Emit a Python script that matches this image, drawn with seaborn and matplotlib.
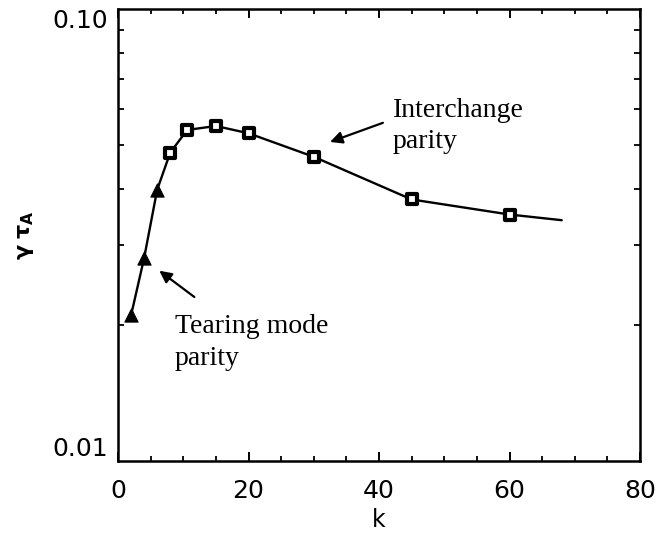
import numpy as np
import pandas as pd
import matplotlib
matplotlib.use("Agg")
import matplotlib.pyplot as plt
from matplotlib.ticker import MultipleLocator, LogLocator, FixedLocator, NullFormatter
import seaborn as sns

# ---- data ----
k_tearing = [2, 4, 6]
g_tearing = [0.0210, 0.0281, 0.0398]
k_interchange = [8, 10.6, 15, 20, 30, 45, 60]
g_interchange = [0.0481, 0.0540, 0.0551, 0.0531, 0.0471, 0.0379, 0.0351]
k_curve_end = [68]
g_curve_end = [0.0341]

x_ticks = [0, 20, 40, 60, 80]
y_ticks = [0.01, 0.10]
y_tick_labels = ["0.01", "0.10"]

sns.set_theme(style="ticks")
plt.rcParams['font.family'] = ['DejaVu Sans']
plt.rcParams['mathtext.fontset'] = 'dejavusans'
plt.rcParams['text.color'] = 'black'
plt.rcParams['axes.labelcolor'] = 'black'
plt.rcParams['xtick.color'] = 'black'
plt.rcParams['ytick.color'] = 'black'

curve = pd.DataFrame({
    "k": k_tearing + k_interchange + k_curve_end,
    "g": g_tearing + g_interchange + g_curve_end,
})
tear = pd.DataFrame({"k": k_tearing, "g": g_tearing})
inter = pd.DataFrame({"k": k_interchange, "g": g_interchange})

fig = plt.figure(figsize=(6.59, 5.34), dpi=100)
fig.patch.set_facecolor("white")
ax = fig.add_axes([118/659, 1-461/534, (640-118)/659, (461-9)/534])
ax.set_facecolor("white")

sns.lineplot(data=curve, x="k", y="g", ax=ax, color="black", lw=1.7,
             sort=False, legend=False)
sns.scatterplot(data=tear, x="k", y="g", ax=ax, marker="^", s=90,
                color="black", edgecolor="black", linewidth=0.8, zorder=5,
                legend=False)
sns.scatterplot(data=inter, x="k", y="g", ax=ax, marker="s", s=52,
                facecolor="white", edgecolor="black", linewidth=3.0, zorder=5,
                legend=False)

ax.set_yscale("log")
ax.set_xlim(0, 80)
ax.set_ylim(0.01, 0.10)

ax.xaxis.set_major_locator(FixedLocator(x_ticks))
ax.xaxis.set_minor_locator(MultipleLocator(5))
ax.yaxis.set_major_locator(FixedLocator(y_ticks))
ax.set_yticklabels(y_tick_labels)
ax.yaxis.set_minor_locator(LogLocator(base=10, subs=np.arange(2, 10)))
ax.yaxis.set_minor_formatter(NullFormatter())

for s in ax.spines.values():
    s.set_linewidth(1.8)
    s.set_color("black")
    s.set_visible(True)

ax.tick_params(axis="x", which="major", direction="in", length=6.5, width=1.4,
               top=True, bottom=True, labelsize=18, pad=13, colors="black")
ax.tick_params(axis="x", which="minor", direction="in", length=3.6, width=1.3,
               top=True, bottom=True)
ax.tick_params(axis="y", which="major", direction="in", length=0, width=1.4,
               left=True, right=True, labelsize=18, pad=7, colors="black")
ax.tick_params(axis="y", which="minor", direction="in", length=4.5, width=1.3,
               left=True, right=True)

ylabels = ax.get_yticklabels()
ylabels[0].set_verticalalignment("bottom")
ylabels[1].set_verticalalignment("top")

ax.set_xlabel("k", fontsize=17, color="black")
ax.xaxis.set_label_coords(0.5, -0.105)
ax.set_ylabel(r"$\mathbf{\gamma\;\tau_A}$", fontsize=16, color="black")
ax.yaxis.set_label_coords(-0.157, 0.5)

serif = ["Liberation Serif", "DejaVu Serif"]
fs = 20
ax.text(42.1, 0.0577, "Interchange", family=serif, fontsize=fs, ha="left", va="baseline", color="black")
ax.text(42.1, 0.0493, "parity", family=serif, fontsize=fs, ha="left", va="baseline", color="black")
ax.text(8.74, 0.01919, "Tearing mode", family=serif, fontsize=fs, ha="left", va="baseline", color="black")
ax.text(8.74, 0.01631, "parity", family=serif, fontsize=fs, ha="left", va="baseline", color="black")

arrow = dict(arrowstyle="-|>", color="black", lw=1.6, mutation_scale=18,
             shrinkA=0, shrinkB=0)
ax.annotate("", xy=(32.5, 0.0508), xytext=(40.6, 0.0560), arrowprops=arrow)
ax.annotate("", xy=(6.33, 0.02636), xytext=(11.7, 0.02306), arrowprops=arrow)

fig.savefig("out.png", dpi=100, facecolor="white")
